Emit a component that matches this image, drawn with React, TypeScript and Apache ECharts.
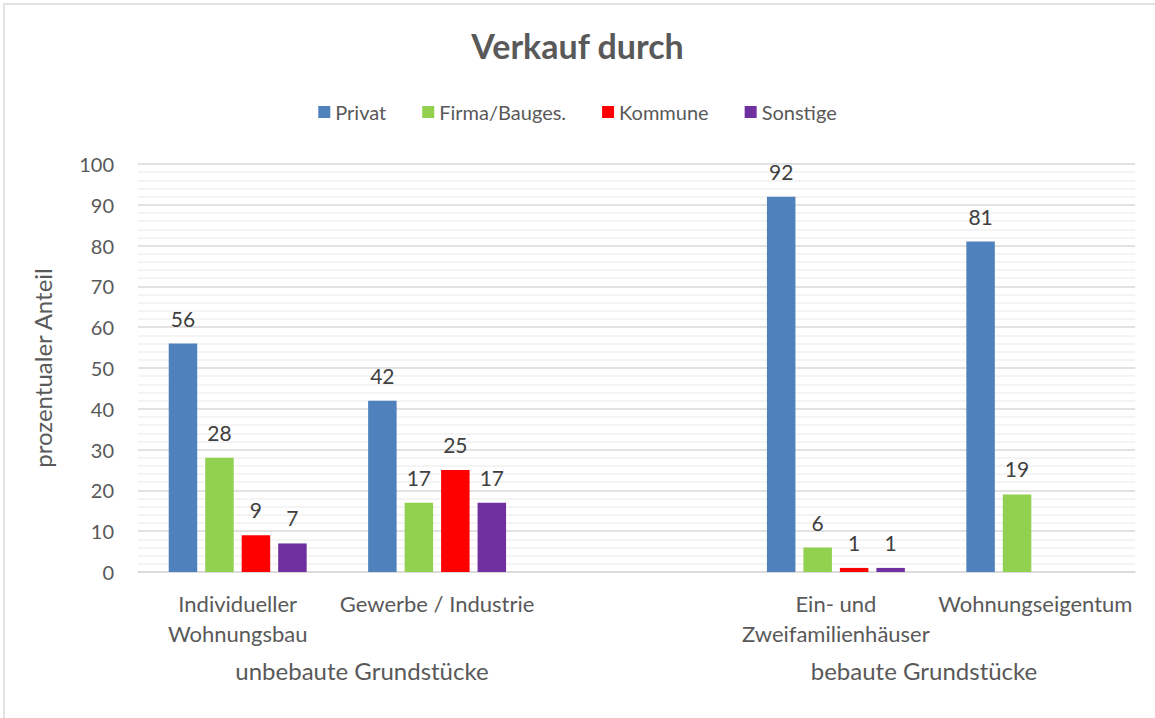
import React, { useEffect, useRef } from "react";
import * as echarts from "echarts";

const categories = ["Individueller\nWohnungsbau", "Gewerbe / Industrie", "", "Ein- und\nZweifamilienhäuser", "Wohnungseigentum"];
const seriesNames = ["Privat", "Firma/Bauges.", "Kommune", "Sonstige"];
const privat = [56, 42, null, 92, 81];
const firma = [28, 17, null, 6, 19];
const kommune = [9, 25, null, 1, null];
const sonstige = [7, 17, null, 1, null];
const colors = ["#4F81BD", "#92D050", "#FF0000", "#7030A0"];
const groupLabels = ["unbebaute Grundstücke", "bebaute Grundstücke"];
const yTicks = { min: 0, max: 100, interval: 10 };

const FONT = "Lato, Carlito, Calibri, sans-serif";

export default function App() {
  const ref = useRef<HTMLDivElement>(null);
  useEffect(() => {
    if (!ref.current) return;
    const chart = echarts.init(ref.current, null, { renderer: "svg" });
    const values = [privat, firma, kommune, sonstige];
    chart.setOption({
      animation: false,
      backgroundColor: "#fff",
      textStyle: { fontFamily: FONT },
      title: {
        text: "Verkauf durch",
        left: "center",
        top: 23,
        textStyle: { fontFamily: FONT, fontSize: 34, fontWeight: "bold", color: "#595959" },
      },
      legend: {
        top: 97,
        left: "center",
        itemWidth: 12,
        itemHeight: 12,
        itemGap: 36,
        icon: "rect",
        textStyle: { fontFamily: FONT, fontSize: 20, color: "#595959" },
        data: seriesNames,
      },
      grid: { left: 138, right: 20, top: 164, bottom: 146 },
      xAxis: {
        type: "category",
        data: categories,
        axisTick: { show: false },
        axisLine: { lineStyle: { color: "#D9D9D9", width: 1.5 } },
        axisLabel: {
          interval: 0,
          fontFamily: FONT,
          fontSize: 22,
          color: "#595959",
          lineHeight: 30,
          margin: 16,
        },
      },
      yAxis: {
        type: "value",
        min: yTicks.min,
        max: yTicks.max,
        interval: yTicks.interval,
        name: "prozentualer Anteil",
        nameLocation: "middle",
        nameGap: 84,
        nameTextStyle: { fontFamily: FONT, fontSize: 24, color: "#595959" },
        axisLine: { show: false },
        axisTick: { show: false },
        axisLabel: { fontFamily: FONT, fontSize: 20, color: "#595959", margin: 24 },
        splitLine: { lineStyle: { color: "#D9D9D9", width: 1.5 } },
        minorTick: { show: false, splitNumber: 5 },
        minorSplitLine: { show: true, lineStyle: { color: "#F0F0F0", width: 1.5 } },
      },
      series: seriesNames.map((name, i) => ({
        name,
        type: "bar",
        data: values[i],
        barWidth: 28.5,
        barGap: "28%",
        itemStyle: { color: colors[i] },
        label: {
          show: true,
          position: "top",
          distance: 15,
          fontFamily: FONT,
          fontSize: 21,
          color: "#404040",
        },
      })),
      graphic: [
        {
          type: "rect",
          shape: { x: 4, y: 4, width: 1300, height: 900 },
          style: { fill: "none", stroke: "#D9D9D9", lineWidth: 1.5 },
          silent: true,
        },
        {
          type: "text",
          x: 362,
          y: 670,
          style: {
            text: groupLabels[0],
            fontFamily: FONT,
            fontSize: 24,
            fill: "#595959",
            textAlign: "center",
            textVerticalAlign: "middle",
          },
        },
        {
          type: "text",
          x: 924,
          y: 670,
          style: {
            text: groupLabels[1],
            fontFamily: FONT,
            fontSize: 24,
            fill: "#595959",
            textAlign: "center",
            textVerticalAlign: "middle",
          },
        },
      ],
    });
    return () => chart.dispose();
  }, []);
  return (
    <div
      ref={ref}
      style={{ position: "absolute", left: 0, top: 0, width: 1155, height: 718 }}
    />
  );
}
